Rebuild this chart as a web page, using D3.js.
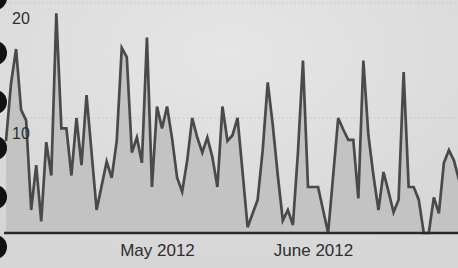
<!doctype html>
<html lang="en">
<head>
  <meta charset="UTF-8">
  <title>Daily count</title>
  <style>
    html, body { margin: 0; padding: 0; background: #dcdcdc; }
    #app { position: relative; width: 458px; height: 268px; overflow: hidden; }
    .tick text { font-family: Arial, "Liberation Sans", sans-serif; }
  </style>
</head>
<body>
<div id="app"></div>
<script src="https://cdn.jsdelivr.net/npm/d3@7"></script>
<script>
  // daily values, 1 April 2012 .. 30 June 2012
  var startDate = '2012-04-01';
  var values = [
    8, 13, 16, 10.7, 9.8, 2, 5.9, 1, 7.9, 5,
    19.1, 9.1, 9.1, 5, 10, 5.9, 12, 7, 2, 4.1,
    6.2, 4.8, 8, 16.1, 15.3, 7, 8.3, 6.1, 17, 4,
    11, 9.1, 11, 8.2, 4.8, 3.6, 6.3, 10, 8.3, 7,
    8.3, 6.6, 4, 11, 8, 8.5, 10, 5.3, 0.5, 1.7,
    2.9, 7.2, 13.1, 9.4, 5, 1.1, 2, 0.7, 7, 15,
    4, 4, 4, 2, 0, 5, 10, 9, 8.1, 8.1,
    3, 15, 8.5, 5, 2, 5.3, 3.6, 1.8, 2.9, 14,
    4, 4, 2.9, 0, 0, 3.1, 1.7, 6.1, 7.2, 6.3,
    4.6
  ];
  var yTicks = [10, 20];
  var xTicks = ['2012-05-01', '2012-06-01'];

  var width = 458;
  var height = 268;
  var parse = d3.timeParse('%Y-%m-%d');
  var t0 = parse(startDate);
  var data = values.map(function(v, i) {
    return { date: d3.timeDay.offset(t0, i), value: v };
  });

  var x = d3.scaleTime()
    .domain([data[0].date, data[data.length - 1].date])
    .range([6, 459]);
  var y = d3.scaleLinear().domain([0, 20]).range([233, 3]);

  var svg = d3.select('#app')
    .append('svg')
    .attr('width', width)
    .attr('height', height);

  var defs = svg.append('defs');
  var bg = defs.append('radialGradient')
    .attr('id', 'bg')
    .attr('cx', '50%').attr('cy', '20%').attr('r', '80%');
  bg.append('stop').attr('offset', '0%').attr('stop-color', '#e6e6e6');
  bg.append('stop').attr('offset', '100%').attr('stop-color', '#d6d6d6');

  svg.append('rect')
    .attr('width', width)
    .attr('height', height)
    .attr('fill', 'url(#bg)');

  // faint grid lines
  svg.selectAll('line.grid')
    .data(yTicks)
    .enter()
    .append('line')
    .attr('class', 'grid')
    .attr('x1', 6).attr('x2', width)
    .attr('y1', d => y(d)).attr('y2', d => y(d))
    .attr('stroke', '#cacaca')
    .attr('stroke-dasharray', '2,2');

  var area = d3.area()
    .x(d => x(d.date))
    .y0(y(0))
    .y1(d => y(d.value));
  var line = d3.line()
    .x(d => x(d.date))
    .y(d => y(d.value));

  svg.append('path')
    .datum(data)
    .attr('d', area)
    .attr('fill', '#c3c3c3');

  svg.append('path')
    .datum(data)
    .attr('d', line)
    .attr('fill', 'none')
    .attr('stroke', '#4a4a4a')
    .attr('stroke-width', 2.7)
    .attr('stroke-linejoin', 'miter');

  // y labels sit under their grid line
  svg.selectAll('text.ylab')
    .data(yTicks)
    .enter()
    .append('text')
    .attr('class', 'ylab')
    .attr('x', 12)
    .attr('y', d => y(d) + 21)
    .attr('font-family', 'Arial, "Liberation Sans", sans-serif')
    .attr('font-size', 16)
    .attr('fill', '#2e2e2e')
    .text(d => d);

  var xAxis = d3.axisBottom(x)
    .tickValues(xTicks.map(parse))
    .tickFormat(d3.timeFormat('%B %Y'))
    .tickSize(0)
    .tickPadding(11);

  var gx = svg.append('g')
    .attr('transform', 'translate(0,' + y(0) + ')')
    .call(xAxis);
  gx.select('.domain').remove();
  gx.selectAll('text')
    .attr('font-size', 17)
    .attr('fill', '#2e2e2e');

  svg.append('line')
    .attr('x1', 4).attr('x2', width)
    .attr('y1', y(0)).attr('y2', y(0))
    .attr('stroke', '#2a2a2a')
    .attr('stroke-width', 2.5);

  // binder holes along the left edge of the page
  var holes = [-2, 53, 102, 148, 197, 247];
  svg.selectAll('circle.hole')
    .data(holes)
    .enter()
    .append('circle')
    .attr('class', 'hole')
    .attr('cx', -5)
    .attr('cy', d => d)
    .attr('r', 12)
    .attr('fill', '#111');
</script>
</body>
</html>
